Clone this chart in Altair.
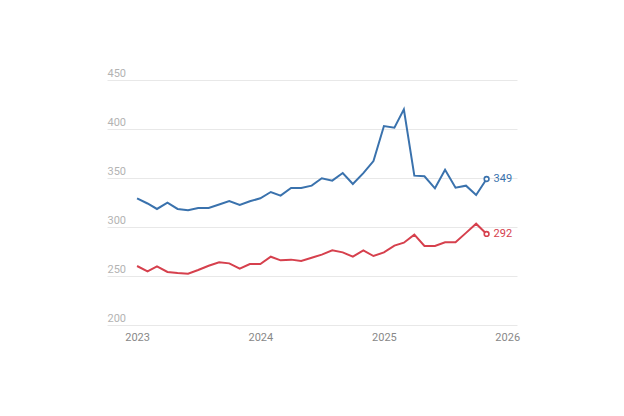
import altair as alt
import pandas as pd

months = pd.date_range("2023-01-01", periods=35, freq="MS").strftime("%Y-%m-%d").tolist()

blue_vals = [329.3, 324, 318.4, 324.8, 318.4, 317, 319.4, 319.4, 323, 326.5, 322.4, 326.2,
             329.3, 335.7, 332, 339.8, 339.8, 342.2, 349.7, 347.3, 355.1, 343.9, 355, 367.3,
             403, 401.4, 420, 352.4, 351.7, 339.5, 358.5, 340.1, 342.2, 332.7, 349]
red_vals = [260.2, 254.8, 259.9, 254.1, 253.1, 252.4, 256.1, 260.5, 263.9, 262.9, 257.5, 262.2,
            262.2, 269.7, 266, 266.7, 265.3, 268.7, 271.8, 276.2, 274.1, 269.7, 276.2, 270.4,
            274.1, 281, 284, 292.2, 280.6, 280.6, 284.4, 284.4, 294, 303.4, 292.9]
series_names = ["blue", "red"]
series_colors = ["#3a72ad", "#d6404d"]
end_labels = ["349", "292"]

rows = []
for d, b, r in zip(months, blue_vals, red_vals):
    rows.append({"date": d, "value": b, "series": "blue"})
    rows.append({"date": d, "value": r, "series": "red"})
df = pd.DataFrame(rows)

end_df = pd.DataFrame({
    "date": [months[-1], months[-1]],
    "value": [blue_vals[-1], red_vals[-1]],
    "series": series_names,
    "label": end_labels,
})

color = alt.Color("series:N", scale=alt.Scale(domain=series_names, range=series_colors), legend=None)

x = alt.X("date:T",
          scale=alt.Scale(domain=["2022-10-04", "2026-01-30"]),
          axis=alt.Axis(values=["2023-01-01", "2024-01-01", "2025-01-01", "2026-01-01"],
                        format="%Y", title=None, domain=False, ticks=False, grid=False,
                        labelColor="#888888", labelFontSize=11, labelPadding=6,
                        labelFont="Roboto"))
y = alt.Y("value:Q",
          scale=alt.Scale(domain=[200, 450], nice=False, zero=False),
          axis=alt.Axis(values=[200, 250, 300, 350, 400, 450], title=None, domain=False,
                        ticks=False, tickSize=0, gridColor="#e8e8e8", gridWidth=1,
                        labelAlign="left", labelBaseline="bottom", labelPadding=0,
                        labelOffset=-2, labelColor="#b3b3b3", labelFontSize=11,
                        labelFont="Roboto"))

lines = alt.Chart(df).mark_line(strokeWidth=2).encode(x=x, y=y, color=color, detail="series:N")
pts = alt.Chart(end_df).mark_point(shape="circle", filled=True, fill="white", size=22,
                                   strokeWidth=1.6, opacity=1).encode(
    x="date:T", y="value:Q", stroke=alt.Stroke("series:N", scale=alt.Scale(domain=series_names, range=series_colors), legend=None))
labels = alt.Chart(end_df).mark_text(align="left", dx=7, fontSize=11, font="Roboto").encode(
    x="date:T", y="value:Q", text="label:N", color=color)

chart = alt.layer(lines, pts, labels).properties(
    width=410, height=245,
    autosize=alt.AutoSizeParams(type="none"),
    padding={"left": 99, "top": 72, "right": 99, "bottom": 80},
).configure_view(stroke=None)

chart.save("out.html", embed_options={"renderer": "svg", "actions": False})
